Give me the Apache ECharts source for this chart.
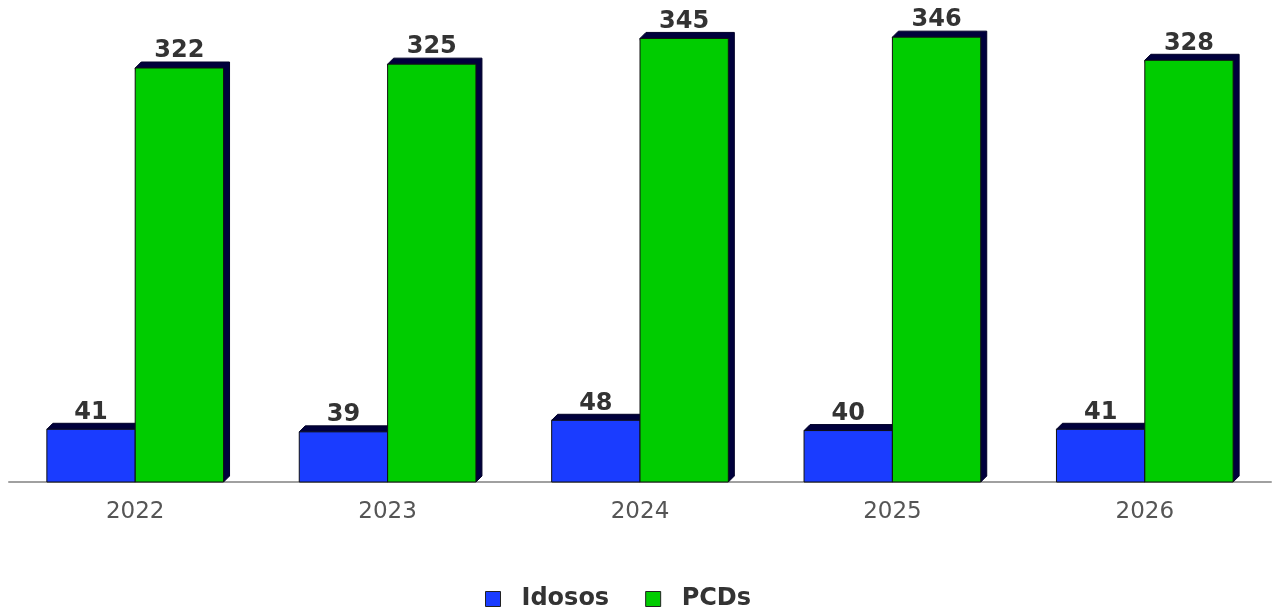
<!DOCTYPE html>
<html>
<head>
<meta charset="utf-8">
<script src="https://cdn.jsdelivr.net/npm/echarts@6/dist/echarts.min.js"></script>
<style>
html,body{margin:0;padding:0;background:#fff;}
#chart{width:1273px;height:610px;}
</style>
</head>
<body>
<div id="chart"></div>
<script>
const categories = ['2022', '2023', '2024', '2025', '2026'];
const idosos = [41, 39, 48, 40, 41];
const pcds = [322, 325, 345, 346, 328];
const seriesNames = ['Idosos', 'PCDs'];
const colors = ['#1a3cff', '#00cc00'];

const chart = echarts.init(document.getElementById('chart'));
const font = 'DejaVu Sans';
const DEPTH = 6;

function makeRender(seriesIndex, color) {
  return function (params, api) {
    const catIdx = api.value(0);
    const val = api.value(1);
    const top = api.coord([catIdx, val]);
    const base = api.coord([catIdx, 0]);
    const band = api.size([1, 0])[0];
    const barW = band * 0.35;
    const x = seriesIndex === 0 ? top[0] - barW : top[0];
    const y = top[1];
    const yb = base[1];
    const d = DEPTH;
    return {
      type: 'group',
      children: [
        {
          type: 'polygon',
          shape: { points: [[x, y], [x + d, y - d], [x + barW + d, y - d], [x + barW + d, yb - d], [x + barW, yb]] },
          style: { fill: '#00003c', stroke: '#000028', lineWidth: 1 }
        },
        {
          type: 'rect',
          shape: { x: x, y: y, width: barW, height: yb - y },
          style: { fill: color, stroke: '#111111', lineWidth: 1 }
        },
        {
          type: 'text',
          style: {
            text: String(val),
            x: x + barW / 2,
            y: y - 5,
            align: 'center',
            verticalAlign: 'bottom',
            fontFamily: font,
            fontWeight: 'bold',
            fontSize: 24,
            fill: '#333333'
          }
        }
      ]
    };
  };
}

chart.setOption({
  animation: false,
  backgroundColor: '#ffffff',
  grid: { left: 9, right: 2, top: 32, bottom: 128, containLabel: false },
  legend: {
    data: seriesNames,
    top: 582,
    left: 480,
    itemWidth: 15,
    itemHeight: 15,
    itemGap: 36,
    icon: 'rect',
    itemStyle: { borderColor: '#222', borderWidth: 1 },
    textStyle: { fontFamily: font, fontWeight: 'bold', fontSize: 24, color: '#333333', padding: [0, 0, 0, 16] }
  },
  xAxis: {
    type: 'category',
    data: categories,
    axisLine: { show: true, lineStyle: { color: '#a0a0a0', width: 2 } },
    axisTick: { show: false },
    axisLabel: { fontFamily: font, fontSize: 23, color: '#555555', margin: 19 }
  },
  yAxis: {
    type: 'value',
    min: 0,
    max: 350,
    show: false,
    splitLine: { show: false }
  },
  series: [
    {
      name: seriesNames[0],
      type: 'custom',
      clip: false,
      itemStyle: { color: colors[0] },
      encode: { x: 0, y: 1 },
      data: idosos.map((v, i) => [i, v]),
      renderItem: makeRender(0, colors[0])
    },
    {
      name: seriesNames[1],
      type: 'custom',
      clip: false,
      itemStyle: { color: colors[1] },
      encode: { x: 0, y: 1 },
      data: pcds.map((v, i) => [i, v]),
      renderItem: makeRender(1, colors[1])
    }
  ]
});
</script>
</body>
</html>
